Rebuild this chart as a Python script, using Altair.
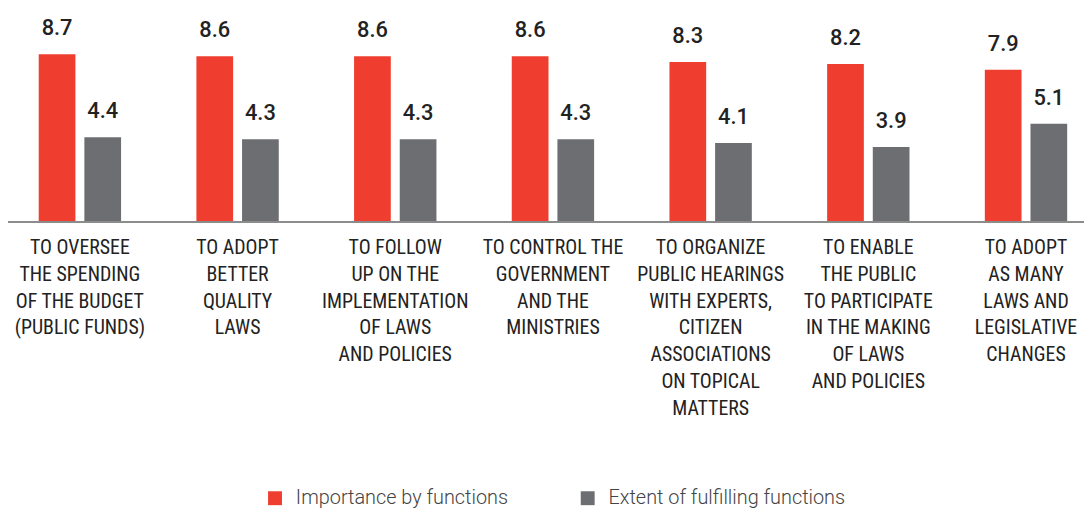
import altair as alt
import pandas as pd

categories = [
    "TO OVERSEE\nTHE SPENDING\nOF THE BUDGET\n(PUBLIC FUNDS)",
    "TO ADOPT\nBETTER\nQUALITY\nLAWS",
    "TO FOLLOW\nUP ON THE\nIMPLEMENTATION\nOF LAWS\nAND POLICIES",
    "TO CONTROL THE\nGOVERNMENT\nAND THE\nMINISTRIES",
    "TO ORGANIZE\nPUBLIC HEARINGS\nWITH EXPERTS,\nCITIZEN\nASSOCIATIONS\nON TOPICAL\nMATTERS",
    "TO ENABLE\nTHE PUBLIC\nTO PARTICIPATE\nIN THE MAKING\nOF LAWS\nAND POLICIES",
    "TO ADOPT\nAS MANY\nLAWS AND\nLEGISLATIVE\nCHANGES",
]
series = ["Importance by functions", "Extent of fulfilling functions"]
importance = [8.7, 8.6, 8.6, 8.6, 8.3, 8.2, 7.9]
fulfilling = [4.4, 4.3, 4.3, 4.3, 4.1, 3.9, 5.1]
colors = ["#EF3E2F", "#6D6E71"]

rows = []
for i, c in enumerate(categories):
    rows.append({"cat": c, "series": series[0], "value": importance[i]})
    rows.append({"cat": c, "series": series[1], "value": fulfilling[i]})
df = pd.DataFrame(rows)
cat_df = pd.DataFrame({"cat": categories})

W, H = 1084, 214

xscale = alt.Scale(domain=categories, range=[-7, 1105], paddingInner=0, paddingOuter=0)
xenc = alt.X("cat:N", scale=xscale, axis=None, sort=categories)
xoff = alt.XOffset("series:N", sort=series,
                   scale=alt.Scale(domain=series, paddingInner=0.196, paddingOuter=0.825))
yscale = alt.Scale(domain=[0, 11], nice=False, zero=True)

bars = alt.Chart(df).mark_bar().encode(
    x=xenc,
    xOffset=xoff,
    y=alt.Y("value:Q", scale=yscale, axis=None),
    color=alt.Color(
        "series:N",
        sort=series,
        scale=alt.Scale(domain=series, range=colors),
        legend=alt.Legend(
            title=None,
            orient="none",
            legendX=259,
            legendY=482,
            direction="horizontal",
            symbolType="square",
            symbolSize=196,
            symbolStrokeWidth=0,
            labelFont="Roboto",
            labelFontSize=20,
            labelFontWeight=300,
            labelColor="#444444",
            labelOffset=11,
            columnPadding=70,
            labelLimit=400,
        ),
    ),
)

values = alt.Chart(df).mark_text(
    font="Roboto", fontSize=22, fontWeight=500, color="#222222",
    baseline="alphabetic", dy=-19,
).encode(
    x=xenc,
    xOffset=xoff,
    y=alt.Y("value:Q", scale=yscale),
    text=alt.Text("value:Q", format=".1f"),
)

labels = alt.Chart(cat_df).mark_text(
    font="Roboto Condensed, Liberation Sans Narrow, DejaVu Sans Condensed, Roboto",
    fontSize=20, color="#222222", baseline="top", align="center",
    lineBreak="\n", lineHeight=27,
).encode(
    x=xenc,
    y=alt.value(230),
    text="cat:N",
)

baseline = alt.Chart(cat_df).mark_rule(color="#8C8C8C", strokeWidth=1.6).encode(
    x=alt.value(0), x2=alt.value(W), y=alt.value(H),
)

chart = alt.layer(bars, baseline, values, labels).properties(
    width=W, height=H,
    autosize=alt.AutoSizeParams(type="none"),
    padding={"left": 0, "top": 0, "right": 0, "bottom": 287},
).configure_view(stroke=None)

chart.save("out.html", embed_options={"renderer": "svg", "actions": False})
